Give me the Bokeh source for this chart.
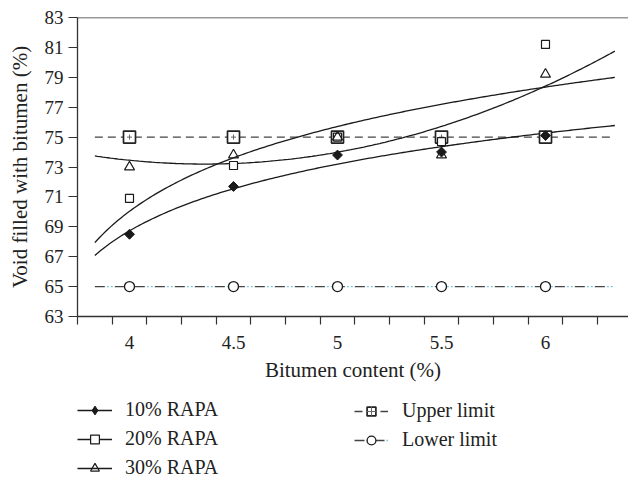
import numpy as np
from bokeh.plotting import figure
from bokeh.layouts import column
from bokeh.models import Range1d, FixedTicker, Span, Legend, LegendItem
from bokeh.embed import file_html
from bokeh.resources import INLINE

# Bitumen content (%) and void filled with bitumen (%) per RAP content
bitumen = [4.0, 4.5, 5.0, 5.5, 6.0]
vfb_10 = [68.5, 71.7, 73.8, 74.0, 75.1]
vfb_20 = [70.9, 73.1, 75.0, 74.7, 81.2]
vfb_30 = [73.0, 73.8, 75.0, 73.8, 79.2]
upper_limit = [75, 75, 75, 75, 75]
lower_limit = [65, 65, 65, 65, 65]
x_labels = ["4", "4.5", "5", "5.5", "6"]
y_ticks = [63, 65, 67, 69, 71, 73, 75, 77, 79, 81, 83]

FONT = "Liberation Serif"
INK = "#1a1a1a"
AXIS = "#333333"
TEXT = "#222222"
CYAN = "#7cc8dc"

# Trend lines are fitted on the category index (1..5), like a spreadsheet chart,
# and extended a third of a category backwards and two thirds forwards.
step = bitumen[1] - bitumen[0]
k = (np.array(bitumen) - bitumen[0]) / step + 1
kk = np.linspace(k[0] - 1 / 3, k[-1] + 2 / 3, 200)
xx = bitumen[0] + (kk - 1) * step

b10, a10 = np.polyfit(np.log(k), vfb_10, 1)
b20, a20 = np.polyfit(np.log(k), vfb_20, 1)
q30 = np.polyfit(k, vfb_30, 2)

trend_10 = a10 + b10 * np.log(kk)
trend_20 = a20 + b20 * np.log(kk)
trend_30 = np.polyval(q30, kk)
x_ends = [xx[0], xx[-1]]

x_lo = bitumen[0] - step / 2
x_hi = x_lo + 551 / 208

# ---- styles shared by the chart and its key ----
st_up_line = dict(line_color="#444444", line_width=1.4, line_dash="8 5")
st_lo_dots = dict(line_color=CYAN, line_width=1.4, line_dash="0 12 2 2 2 2")
st_lo_line = dict(line_color="#444444", line_width=1.4, line_dash="10 10")
st_trend = dict(line_color=INK, line_width=1.3)
st_up = dict(marker="square", line_color="#222222", line_width=1.7, fill_color="white")
st_up_in = dict(marker="cross", line_color="#666666", line_width=1)
st_lo = dict(marker="circle", line_color=INK, line_width=1.3, fill_color="white")
st_20 = dict(marker="square", line_color=INK, line_width=1.2, fill_color="white")
st_30 = dict(marker="triangle", line_color=INK, line_width=1.2, fill_alpha=0)
st_10 = dict(marker="square", angle=np.pi / 4, line_color=INK, fill_color=INK)

p = figure(width=628, height=390, output_backend="svg", toolbar_location=None,
           x_range=Range1d(x_lo, x_hi), y_range=Range1d(63, 83),
           min_border_left=77, min_border_right=0, min_border_top=17,
           min_border_bottom=74)
p.outline_line_color = None
p.grid.visible = False

# top frame line
p.add_layout(Span(location=83, dimension="width", line_color=AXIS, line_width=1.3))

# limits
p.line(x_ends, [upper_limit[0]] * 2, **st_up_line)
p.line(x_ends, [lower_limit[0]] * 2, **st_lo_dots)
p.line(x_ends, [lower_limit[0]] * 2, **st_lo_line)

# trend lines
p.line(xx, trend_10, **st_trend)
p.line(xx, trend_20, **st_trend)
p.line(xx, trend_30, **st_trend)

# measured points
p.scatter(bitumen, upper_limit, size=12, **st_up)
p.scatter(bitumen, upper_limit, size=5, **st_up_in)
p.scatter(bitumen, lower_limit, size=10, **st_lo)
p.scatter(bitumen, vfb_20, size=8, **st_20)
p.scatter(bitumen, vfb_30, size=10, **st_30)
p.scatter(bitumen, vfb_10, size=7, **st_10)

# axes
xa = p.xaxis[0]
xa.ticker = FixedTicker(ticks=bitumen,
                        minor_ticks=[x_lo + j * step / 3 for j in range(16)])
xa.major_label_overrides = {b: s for b, s in zip(bitumen, x_labels)}
xa.major_tick_out = 0
xa.major_tick_in = 0
xa.minor_tick_out = 8
xa.minor_tick_in = 0
xa.minor_tick_line_color = AXIS
xa.minor_tick_line_width = 1.2
xa.major_label_standoff = 11
xa.axis_label = "Bitumen content (%)"
xa.axis_label_standoff = 6

ya = p.yaxis[0]
ya.ticker = FixedTicker(ticks=y_ticks)
ya.major_tick_out = 9
ya.major_tick_in = 0
ya.minor_tick_line_color = None
ya.major_tick_line_color = AXIS
ya.major_tick_line_width = 1.2
ya.major_label_standoff = 5
ya.axis_label = "Void filled with bitumen (%)"
ya.axis_label_standoff = 10

for ax in (xa, ya):
    ax.axis_line_color = AXIS
    ax.axis_line_width = 1.3
    ax.major_label_text_font = FONT
    ax.major_label_text_font_size = "19px"
    ax.major_label_text_color = TEXT
    ax.axis_label_text_font = FONT
    ax.axis_label_text_font_size = "21px"
    ax.axis_label_text_font_style = "normal"
    ax.axis_label_text_color = TEXT

# ---- key below the chart (its frame is aligned with the chart's frame) ----
key = figure(width=628, height=89, output_backend="svg", toolbar_location=None,
             x_range=Range1d(0, 1), y_range=Range1d(0, 1), min_border=0,
             x_axis_location=None, y_axis_location=None)
key.outline_line_color = None
key.grid.visible = False

off = ([-5, -4], [-5, -5])  # off-canvas samples: only the key swatches are shown
k_t10 = key.line(*off, **st_trend)
k_10 = key.scatter([-5], [-5], size=9, marker="diamond", line_color=INK, fill_color=INK)
k_t20 = key.line(*off, **st_trend)
k_20 = key.scatter([-5], [-5], size=8, **st_20)
k_t30 = key.line(*off, **st_trend)
k_30 = key.scatter([-5], [-5], size=10, **st_30)
k_upl = key.line(*off, **st_up_line)
k_up = key.scatter([-5], [-5], size=12, **st_up)
k_upi = key.scatter([-5], [-5], size=5, **st_up_in)
k_lod = key.line(*off, **st_lo_dots)
k_lol = key.line(*off, **st_lo_line)
k_lo = key.scatter([-5], [-5], size=10, **st_lo)

legend_style = dict(background_fill_alpha=0, border_line_alpha=0, padding=0,
                    margin=0, spacing=6, glyph_height=22, label_height=22,
                    label_text_font=FONT, label_text_font_size="20px",
                    label_text_color=TEXT, label_text_baseline="middle")

left_legend = Legend(items=[
    LegendItem(label="10% RAPA", renderers=[k_t10, k_10]),
    LegendItem(label="20% RAPA", renderers=[k_t20, k_20]),
    LegendItem(label="30% RAPA", renderers=[k_t30, k_30]),
], location=(0, 0), glyph_width=35, label_standoff=13, **legend_style)

right_legend = Legend(items=[
    LegendItem(label="Upper limit", renderers=[k_upl, k_up, k_upi]),
    LegendItem(label="Lower limit", renderers=[k_lod, k_lol, k_lo]),
], location=(277, 28), glyph_width=34, label_standoff=14, **legend_style)

key.add_layout(left_legend, "center")
key.add_layout(right_legend, "center")

layout = column(p, key, spacing=0)
open("out.html", "w").write(file_html(layout, INLINE))
